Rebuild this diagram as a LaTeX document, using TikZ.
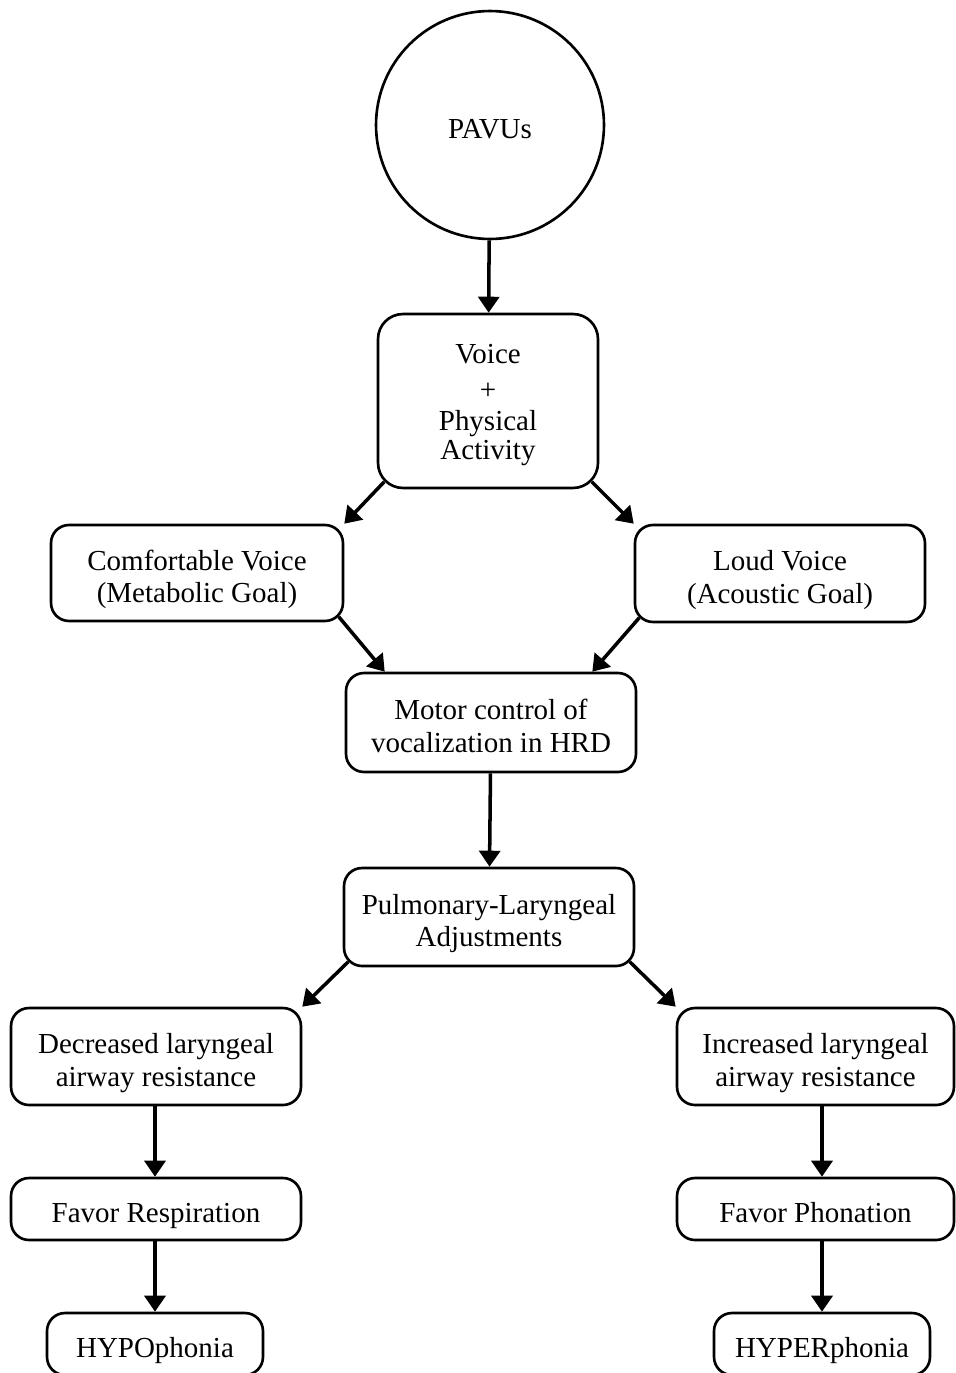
\documentclass[tikz,border=0pt]{standalone}
\usepackage{fontspec}
\setmainfont{Liberation Serif}
\usetikzlibrary{arrows.meta}

\begin{document}
\begin{tikzpicture}[x=0.02cm, y=-0.02cm,
    every node/.style={font=\fontsize{16.5}{18.5}\selectfont, align=center,
        execute at begin node=\rule[-4pt]{0pt}{23pt}},
    drop/.style={execute at begin node=\rule{0pt}{#1}},
    stepbox/.style={draw, line width=1.5pt, rounded corners=0.36cm, inner sep=0pt},
    flow/.style={-{Triangle[width=0.42cm, length=0.32cm]}, line width=2pt}]
    \useasboundingbox (0, 0) rectangle (956, 1373);

    \node[draw, circle, line width=1.5pt, minimum size=4.56cm] (pavus) at (490, 125) {PAVUs};

    \node[stepbox, drop=70.5pt, rounded corners=0.5cm, minimum width=4.4cm, minimum height=3.48cm] (voice) at (488, 401) {Voice\\[2pt] +\\[-1pt] Physical\\[-2pt] Activity};

    \node[stepbox, drop=38pt, minimum width=5.84cm, minimum height=1.92cm] (comfort) at (197, 573) {Comfortable Voice\\ (Metabolic Goal)};
    \node[stepbox, drop=38pt, minimum width=5.8cm, minimum height=1.94cm] (loud) at (780, 573.5) {Loud Voice\\ (Acoustic Goal)};

    \node[stepbox, drop=38pt, minimum width=5.8cm, minimum height=1.98cm] (motor) at (491, 722.5) {Motor control of\\ vocalization in HRD};
    \node[stepbox, drop=38pt, minimum width=5.8cm, minimum height=1.96cm] (pulm) at (489, 917) {Pulmonary-Laryngeal\\ Adjustments};

    \node[stepbox, drop=38pt, minimum width=5.8cm, minimum height=1.94cm] (decr) at (156, 1056.5) {Decreased laryngeal\\ airway resistance};
    \node[stepbox, drop=38pt, minimum width=5.54cm, minimum height=1.94cm] (incr) at (815.5, 1056.5) {Increased laryngeal\\ airway resistance};

    \node[stepbox, minimum width=5.8cm, minimum height=1.24cm] (resp) at (156, 1209) {Favor Respiration};
    \node[stepbox, minimum width=5.54cm, minimum height=1.24cm] (phon) at (815.5, 1209) {Favor Phonation};

    \node[stepbox, minimum width=4.32cm, minimum height=1.24cm] (hypo) at (155, 1344) {HYPOphonia};
    \node[stepbox, minimum width=4.32cm, minimum height=1.24cm] (hyper) at (822, 1344) {HYPERphonia};

    \draw[flow] (pavus) -- (voice);
    \draw[flow] ([shift={(0.15cm,0.15cm)}]voice.south west) -- (comfort.north east);
    \draw[flow] ([shift={(-0.15cm,0.15cm)}]voice.south east) -- (loud.north west);
    \draw[flow] ([shift={(-0.11cm,0.11cm)}]comfort.south east) -- ([xshift=0.8cm]motor.north west);
    \draw[flow] ([shift={(0.11cm,0.11cm)}]loud.south west) -- ([xshift=-0.9cm]motor.north east);
    \draw[flow] (motor) -- (pulm);
    \draw[flow] ([shift={(0.11cm,0.11cm)}]pulm.south west) -- (decr.north east);
    \draw[flow] ([shift={(-0.11cm,0.11cm)}]pulm.south east) -- (incr.north west);
    \draw[flow] (decr.south -| hypo.north) -- (resp.north -| hypo.north);
    \draw[flow] (resp.south -| hypo.north) -- (hypo);
    \draw[flow] (incr.south -| hyper.north) -- (phon.north -| hyper.north);
    \draw[flow] (phon.south -| hyper.north) -- (hyper);
\end{tikzpicture}
\end{document}
